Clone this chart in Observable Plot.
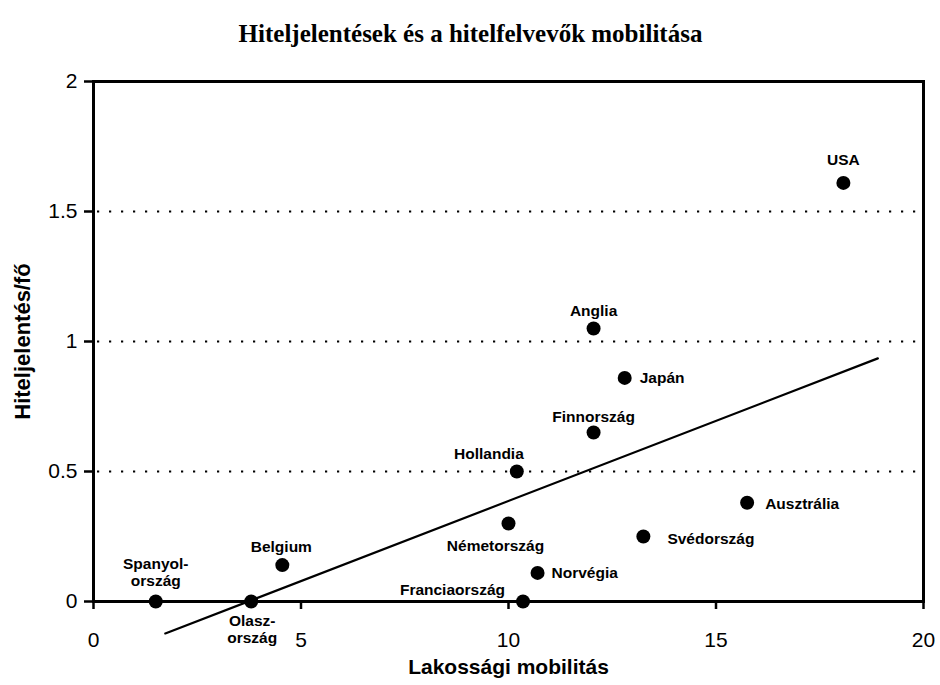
<!DOCTYPE html>
<html>
<head>
<meta charset="utf-8">
<script src="https://cdn.jsdelivr.net/npm/d3@7"></script>
<script src="https://cdn.jsdelivr.net/npm/@observablehq/plot@0.6"></script>
<style>
  html, body { margin: 0; padding: 0; background: #fff; }
  #chart { width: 940px; height: 685px; }
</style>
</head>
<body>
<div id="chart"></div>
<script>
// ---- data ----
const countries = ["USA", "Anglia", "Japán", "Finnország", "Hollandia", "Németország",
  "Ausztrália", "Svédország", "Norvégia", "Franciaország", "Belgium", "Spanyolország", "Olaszország"];
const labels = ["USA", "Anglia", "Japán", "Finnország", "Hollandia", "Németország",
  "Ausztrália", "Svédország", "Norvégia", "Franciaország", "Belgium", "Spanyol-\nország", "Olasz-\nország"];
const mobility = [18.07, 12.05, 12.8, 12.05, 10.2, 10.0, 15.75, 13.25, 10.7, 10.35, 4.55, 1.5, 3.8];
const reports = [1.61, 1.05, 0.86, 0.65, 0.50, 0.30, 0.38, 0.25, 0.11, 0.0, 0.14, 0.0, 0.0];
const trendX = [1.73, 18.9];
const trendY = [-0.123, 0.935];
const xTicks = [0, 5, 10, 15, 20];
const yTicks = [0, 0.5, 1, 1.5, 2];
const gridY = [0.5, 1, 1.5];
const title = "Hiteljelentések és a hitelfelvevők mobilitása";
const xTitle = "Lakossági mobilitás";
const yTitle = "Hiteljelentés/fő";

// ---- label placement (styling, not data) ----
const placement = {
  "USA": {dx: 0, dy: -23, anchor: "middle"},
  "Anglia": {dx: 0, dy: -18, anchor: "middle"},
  "Japán": {dx: 15, dy: 0, anchor: "start"},
  "Finnország": {dx: 0, dy: -16, anchor: "middle"},
  "Hollandia": {dx: 7, dy: -18, anchor: "end"},
  "Németország": {dx: -13, dy: 22, anchor: "middle"},
  "Ausztrália": {dx: 18, dy: 1, anchor: "start"},
  "Svédország": {dx: 24, dy: 2, anchor: "start"},
  "Norvégia": {dx: 14, dy: 0, anchor: "start"},
  "Franciaország": {dx: -18, dy: -12, anchor: "end"},
  "Belgium": {dx: -1, dy: -19, anchor: "middle"},
  "Spanyolország": {dx: 0, dy: -29, anchor: "middle"},
  "Olaszország": {dx: 1, dy: 28, anchor: "middle"}
};

const rows = countries.map((c, i) => ({country: c, label: labels[i], x: mobility[i], y: reports[i]}));
const trend = trendX.map((x, i) => ({x, y: trendY[i]}));

const labelMarks = rows.map(r => {
  const p = placement[r.country];
  return Plot.text([r], {
    x: "x", y: "y", text: "label",
    dx: p.dx, dy: p.dy, textAnchor: p.anchor,
    fontSize: 15.5, fontWeight: "bold", lineHeight: 1.1, fill: "#000"
  });
});

const chart = Plot.plot({
  width: 940,
  height: 685,
  marginTop: 81,
  marginBottom: 84,
  marginLeft: 93,
  marginRight: 17,
  style: {fontFamily: "'Liberation Sans', Arial, sans-serif", background: "#fff", color: "#000"},
  x: {domain: [0, 20]},
  y: {domain: [0, 2]},
  marks: [
    Plot.ruleY(gridY, {stroke: "#000", strokeWidth: 2.2, strokeDasharray: "2.2,9.8", strokeDashoffset: -16}),
    Plot.axisX({ticks: xTicks, tickSize: 8, tickPadding: 23, fontSize: 21, label: null, strokeWidth: 2.5, tickFormat: d => String(d)}),
    Plot.axisY({ticks: yTicks, tickSize: 9, tickPadding: 7, fontSize: 21, label: null, strokeWidth: 2.5, tickFormat: d => String(d)}),
    Plot.frame({stroke: "#000", strokeWidth: 3}),
    Plot.line(trend, {x: "x", y: "y", stroke: "#000", strokeWidth: 2.2}),
    Plot.dot(rows, {x: "x", y: "y", r: 7, fill: "#000", stroke: "none"}),
    ...labelMarks,
    Plot.text([xTitle], {frameAnchor: "bottom", dy: 66, lineAnchor: "middle", textAnchor: "middle", text: d => d, fontSize: 21, fontWeight: "bold"}),
    Plot.text([yTitle], {frameAnchor: "left", dx: -71, rotate: -90, lineAnchor: "middle", textAnchor: "middle", text: d => d, fontSize: 22, fontWeight: "bold"}),
    Plot.text([title], {frameAnchor: "top", dx: -38, dy: -48, lineAnchor: "middle", textAnchor: "middle", text: d => d, fontSize: 25, fontWeight: "bold", fontFamily: "'Liberation Serif', 'Times New Roman', serif"})
  ]
});
document.getElementById("chart").appendChild(chart);
</script>
</body>
</html>
